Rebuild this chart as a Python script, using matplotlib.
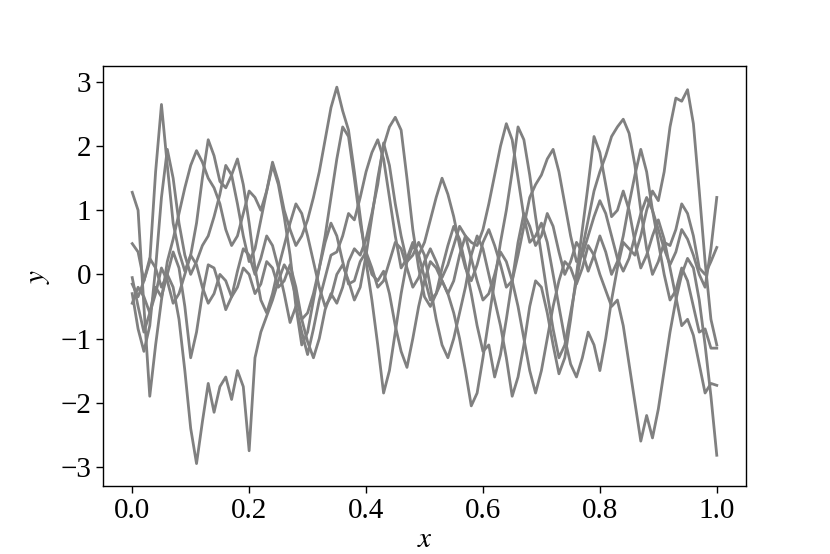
import numpy as np
import matplotlib
matplotlib.use("Agg")
import matplotlib.pyplot as plt

plt.rcParams['font.family'] = ['Liberation Serif', 'DejaVu Serif']
plt.rcParams['mathtext.fontset'] = 'stix'
plt.rcParams['font.size'] = 21

x_vals = np.linspace(0.0, 1.0, 101)

s1 = [1.28, 1.0, -0.5, -1.9, -1.1, -0.4, 0.2, 0.55, 0.95, 1.35,
      1.7, 1.93, 1.75, 1.5, 1.35, 1.1, 0.7, 0.45, 0.6, 0.95,
      1.3, 1.2, 1.0, 1.3, 1.75, 1.45, 1.0, 0.7, 0.45, 0.6,
      0.85, 1.2, 1.6, 2.1, 2.6, 2.92, 2.55, 2.25, 1.6, 0.9,
      0.2, -0.4, -1.1, -1.85, -1.5, -0.9, -0.3, 0.2, 0.45, 0.3,
      0.5, 0.85, 1.2, 1.5, 1.25, 0.9, 0.45, 0.1, -0.1, 0.15,
      0.5, 0.7, 0.45, 0.15, -0.2, -0.1, 0.3, 0.75, 1.2, 1.4,
      1.55, 1.8, 1.95, 1.6, 1.1, 0.6, 0.2, 0.3, 0.6, 0.9,
      1.15, 0.95, 0.6, 0.25, 0.05, 0.25, 0.6, 0.95, 1.2, 1.0,
      0.7, 0.4, 0.15, 0.35, 0.7, 0.55, 0.3, 0.0, -0.2, 0.4,
      1.2]

s2 = [0.48, 0.35, -0.1, 0.2, 1.6, 2.65, 1.7, 0.8, 0.35, 0.05,
      0.3, 0.8, 1.5, 2.1, 1.85, 1.45, 1.35, 1.55, 1.8, 1.4,
      0.8, 0.1, -0.4, -0.6, -0.3, 0.1, 0.45, 0.8, 1.1, 0.95,
      0.6, 0.2, -0.2, -0.5, -0.35, 0.0, 0.15, -0.1, -0.4, -0.2,
      0.3, 0.9, 1.5, 2.0, 2.3, 2.45, 2.25, 1.5, 0.7, 0.1,
      -0.35, -0.5, -0.3, -0.1, -0.3, -0.6, -1.0, -1.5, -2.05, -1.85,
      -1.3, -0.7, -0.1, 0.5, 1.0, 1.6, 2.3, 2.1, 1.55, 0.9,
      0.3, -0.3, -0.85, -1.3, -1.1, -0.6, -0.1, 0.4, 0.85, 1.3,
      1.6, 1.85, 2.15, 2.3, 2.42, 2.2, 1.7, 1.0, 0.4, 0.0,
      0.2, 0.5, 0.45, 0.7, 1.1, 0.95, 0.6, 0.1, 0.0, 0.2,
      0.42]

s3 = [-0.05, -0.5, -0.9, -0.6, -0.2, -0.35, 0.0, -0.2, -0.7, -1.5,
      -2.4, -2.95, -2.3, -1.7, -2.15, -1.75, -1.6, -1.95, -1.5, -1.75,
      -2.75, -1.3, -0.9, -0.65, -0.4, -0.1, 0.15, 0.0, -0.35, -0.7,
      -0.6, -0.3, 0.1, 0.5, 0.8, 0.6, 0.2, -0.15, -0.1, 0.2,
      0.35, 0.1, -0.2, -0.1, 0.2, 0.5, 0.4, 0.1, -0.2, -0.05,
      0.2, 0.4, 0.2, -0.05, 0.15, 0.45, 0.75, 0.6, 0.25, -0.1,
      -0.4, -0.3, 0.0, 0.35, 0.2, -0.1, -0.5, -1.0, -1.5, -1.85,
      -1.5, -1.0, -0.5, -0.1, 0.2, 0.1, -0.15, 0.1, 0.45, 0.3,
      0.0, -0.25, -0.5, -0.4, -0.8, -1.4, -2.0, -2.6, -2.2, -2.55,
      -2.1, -1.5, -0.9, -0.4, 0.0, 0.25, 0.1, -0.4, -1.1, -1.9,
      -2.82]

s4 = [-0.3, -0.85, -1.2, -0.8, 0.1, 1.2, 1.95, 1.5, 0.8, 0.3,
      0.0, 0.2, 0.45, 0.6, 0.9, 1.25, 1.7, 1.55, 1.1, 0.6,
      0.2, 0.4, 0.85, 1.3, 1.7, 1.4, 0.9, 0.3, -0.5, -1.1,
      -0.9, -0.4, 0.1, 0.6, 1.2, 1.8, 2.3, 2.15, 1.5, 0.8,
      0.3, 0.0, -0.1, 0.05, -0.3, -0.8, -1.2, -1.45, -1.0, -0.5,
      -0.1, 0.2, 0.1, -0.1, -0.3, -0.1, 0.3, 0.6, 0.5, 0.45,
      0.7, 1.1, 1.55, 2.0, 2.35, 2.1, 1.5, 0.9, 0.5, 0.6,
      0.8, 0.5, 0.0, -0.5, -1.0, -1.4, -1.6, -1.3, -0.9, -1.1,
      -1.5, -1.0, -0.4, 0.1, 0.5, 0.4, 0.3, 0.6, 1.0, 1.3,
      1.15, 1.6, 2.3, 2.75, 2.7, 2.88, 2.35, 1.3, 0.2, -0.7,
      -1.1]

s5 = [-0.45, -0.2, -0.35, -0.6, -0.3, 0.1, -0.1, -0.45, -0.3, 0.0,
      0.3, 0.15, -0.2, -0.45, -0.3, 0.0, -0.1, -0.35, -0.2, 0.1,
      0.0, -0.3, -0.15, 0.2, 0.1, -0.2, -0.1, 0.15, -0.2, -0.7,
      -1.05, -1.3, -1.0, -0.55, -0.3, -0.45, -0.2, 0.2, 0.4, 0.3,
      0.55, 0.95, 1.4, 2.05, 1.7, 1.1, 0.6, 0.2, 0.3, 0.5,
      0.3, -0.2, -0.7, -1.1, -1.3, -1.0, -0.6, -0.2, 0.3, 0.6,
      0.4, 0.0, -0.4, -0.8, -1.3, -1.9, -1.6, -1.1, -0.5, -0.1,
      -0.2, -0.6, -1.1, -1.55, -1.3, -0.7, 0.0, 0.7, 1.4, 2.15,
      1.9, 1.4, 0.9, 1.0, 1.3, 1.0, 0.5, 0.1, 0.3, 0.6,
      0.85, 0.55, 0.1, -0.35, -0.8, -0.7, -0.95, -1.4, -1.85, -1.7,
      -1.73]

s6 = [-0.15, -0.35, -0.1, 0.25, 0.1, -0.2, 0.0, 0.35, 0.1, -0.5,
      -1.3, -0.9, -0.3, 0.15, 0.1, -0.2, -0.55, -0.35, 0.05, 0.4,
      0.3, 0.0, 0.25, 0.6, 0.45, 0.1, -0.3, -0.75, -0.5, -0.9,
      -1.25, -0.85, -0.4, -0.05, 0.3, 0.35, 0.6, 0.95, 0.85, 1.2,
      1.6, 1.9, 2.1, 1.8, 1.2, 0.6, 0.1, 0.25, 0.5, 0.3,
      -0.05, -0.4, -0.3, 0.1, 0.45, 0.75, 0.55, 0.15, -0.3, -0.8,
      -1.2, -1.1, -1.6, -1.25, -0.7, -0.1, 0.5, 0.95, 0.75, 0.45,
      0.6, 0.95, 0.75, 0.35, 0.0, 0.2, 0.5, 0.35, 0.05, 0.3,
      0.6, 0.35, 0.0, 0.2, 0.6, 1.1, 1.55, 1.95, 1.6, 1.0,
      0.5, 0.0, -0.4, -0.25, 0.1, -0.1, -0.5, -0.9, -0.85, -1.15,
      -1.15]

series = [s1, s2, s3, s4, s5, s6]

fig = plt.figure(figsize=(8.3, 5.54), dpi=100)
ax = fig.add_axes([0.1241, 0.1227, 0.7747, 0.7582])
for s in series:
    ax.plot(x_vals, s, color='gray', lw=2.0)

ax.set_xlim(-0.05, 1.05)
ax.set_ylim(-3.3, 3.25)
ax.set_xticks([0.0, 0.2, 0.4, 0.6, 0.8, 1.0])
ax.set_yticks([-3, -2, -1, 0, 1, 2, 3])
ax.set_xlabel('$x$', labelpad=2)
ax.set_ylabel('$y$', labelpad=6)
for sp in ax.spines.values():
    sp.set_linewidth(1.0)
ax.tick_params(width=1.0, length=5)

fig.savefig('out.png', dpi=100)
